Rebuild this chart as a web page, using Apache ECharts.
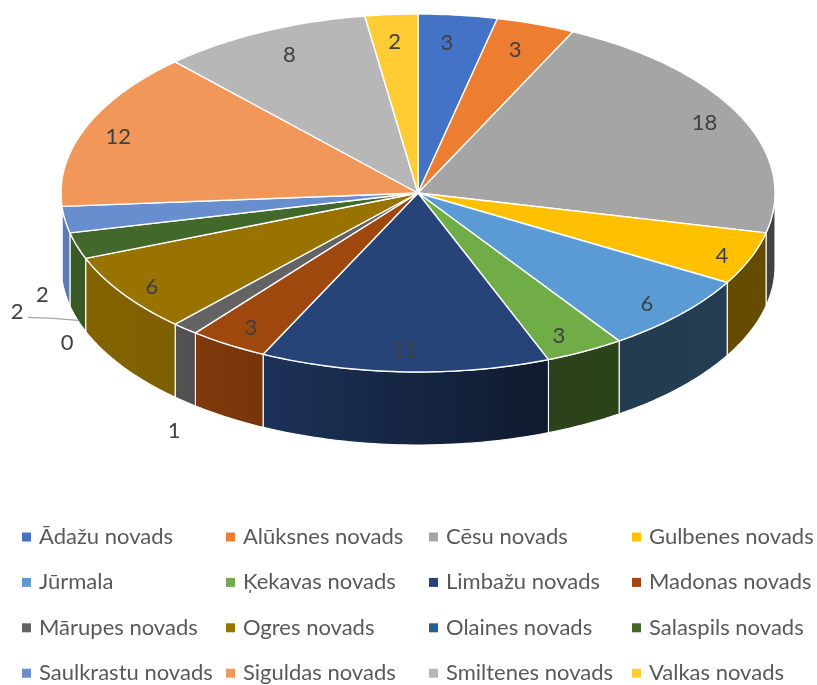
<!DOCTYPE html>
<html>
<head>
<meta charset="utf-8">
<style>html,body{margin:0;padding:0;background:#fff}#c{width:817px;height:685px}</style>
<script src="https://cdn.jsdelivr.net/npm/echarts@6/dist/echarts.min.js"></script>
</head>
<body>
<div id="c"></div>
<script>
var categories = ['Ādažu novads','Alūksnes novads','Cēsu novads','Gulbenes novads','Jūrmala','Ķekavas novads','Limbažu novads','Madonas novads','Mārupes novads','Ogres novads','Olaines novads','Salaspils novads','Saulkrastu novads','Siguldas novads','Smiltenes novads','Valkas novads'];
var values = [3,3,18,4,6,3,11,3,1,6,0,2,2,12,8,2];
var colors = ['#4472C4','#ED7D31','#A5A5A5','#FFC000','#5B9BD5','#70AD47','#264478','#9E480E','#636363','#997300','#255E91','#43682B','#698ED0','#F1975A','#B7B7B7','#FFCD33'];

// layout of the projected disc
var CX = 418, CY = 193, RX = 357, RY = 179, DEPTH = 73, LABEL_R = 0.875;
// pixel nudges of data labels from their computed anchor (Excel's label placement)
var labelNudge = {0:[-6,6],1:[-6,5],2:[5,-2],3:[13,6],4:[0,4],5:[-5,4],6:[-1,0],7:[-1,2],8:[-40,119],9:[-8,6],10:[-60,93],11:[-77,56],12:[-92,96],13:[-9,1],14:[7,3],15:[0,5]};
var LEADER_SLICE = 12;

var total = values.reduce(function(a,b){return a+b;},0);
var cum = [];
values.reduce(function(a,v,i){cum[i]=a;return a+v;},0);

function pt(deg, ry0){
  var t = deg*Math.PI/180;
  return [CX+RX*Math.sin(t), CY-RY*Math.cos(t)+(ry0||0)];
}
function arc(a,b,off){
  var out=[], n=Math.max(2,Math.ceil(Math.abs(b-a)));
  for(var i=0;i<=n;i++) out.push(pt(a+(b-a)*i/n,off));
  return out;
}
// brightness of the side wall, by angle round the disc
var shadeStops = [[90,.40],[165,.38],[206,.74],[218,.81],[235,.86],[270,.87]];
function shade(d){
  for(var i=1;i<shadeStops.length;i++){
    if(d<=shadeStops[i][0]){
      var a=shadeStops[i-1],b=shadeStops[i];
      return a[1]+(b[1]-a[1])*(d-a[0])/(b[0]-a[0]);
    }
  }
  return shadeStops[shadeStops.length-1][1];
}
function dim(hex,k){
  var n=parseInt(hex.slice(1),16);
  return 'rgb('+[(n>>16)&255,(n>>8)&255,n&255].map(function(c){return Math.round(c*k);}).join(',')+')';
}
function angles(i,v){
  return [cum[i]/total*360,(cum[i]+v)/total*360];
}

function renderWall(params,api){
  var i=params.dataIndex, v=api.value(0), an=angles(i,v);
  var a=Math.max(an[0],90), b=Math.min(an[1],270);
  if(v===0||b<=a) return {type:'group',children:[]};
  var pts=arc(a,b,0).concat(arc(b,a,DEPTH));
  return {type:'polygon',shape:{points:pts},style:{
    fill:new echarts.graphic.LinearGradient(0,0,1,0,[
      {offset:0,color:dim(colors[i],shade(b))},
      {offset:1,color:dim(colors[i],shade(a))}
    ]),
    stroke:'#fff',lineWidth:1.1,lineJoin:'round'}};
}
function renderTop(i){
  return function(params,api){
    var v=api.value(0), an=angles(i,v), kids=[];
    if(v>0){
      kids.push({type:'polygon',shape:{points:[[CX,CY]].concat(arc(an[0],an[1],0))},
        style:{fill:colors[i],stroke:'#fff',lineWidth:1.4,lineJoin:'round'}});
    }
    var mid=(an[0]+an[1])/2, t=mid*Math.PI/180, n=labelNudge[i]||[0,0];
    var lx=CX+LABEL_R*RX*Math.sin(t)+n[0], ly=CY-LABEL_R*RY*Math.cos(t)+n[1];
    if(i===LEADER_SLICE){
      kids.push({type:'polyline',shape:{points:[[lx+11,ly+5],[lx+36,ly+6],[lx+61,ly+8]]},
        style:{fill:'none',stroke:'#A6A6A6',lineWidth:1.2},z2:1});
    }
    kids.push({type:'text',x:lx,y:ly,z2:5,style:{text:String(v),fill:'#404040',
      font:'22px Lato, Carlito, sans-serif',align:'center',verticalAlign:'middle'}});
    return {type:'group',children:kids};
  };
}

var series=[{type:'custom',name:'walls',coordinateSystem:'none',silent:true,z:1,
  renderItem:renderWall,data:values.map(function(v){return [v];})}];
categories.forEach(function(c,i){
  series.push({type:'custom',name:c,coordinateSystem:'none',z:2+i,
    itemStyle:{color:colors[i]},renderItem:renderTop(i),data:[[values[i]]]});
});

var columnLeft=[22,226,429,632];
var legends=columnLeft.map(function(left,col){
  return {orient:'vertical',left:left,top:526,height:159,padding:0,itemWidth:9,itemHeight:9,itemGap:23.4,icon:'rect',
    selectedMode:false,
    data:[0,1,2,3].map(function(r){return categories[r*4+col];}),
    textStyle:{color:'#595959',fontSize:22,lineHeight:22,height:22,fontFamily:'Lato, Carlito, sans-serif',padding:[0,0,0,3]}};
});

var chart=echarts.init(document.getElementById('c'),null,{renderer:'canvas'});
chart.setOption({animation:false,backgroundColor:'#fff',legend:legends,series:series});
</script>
</body>
</html>
